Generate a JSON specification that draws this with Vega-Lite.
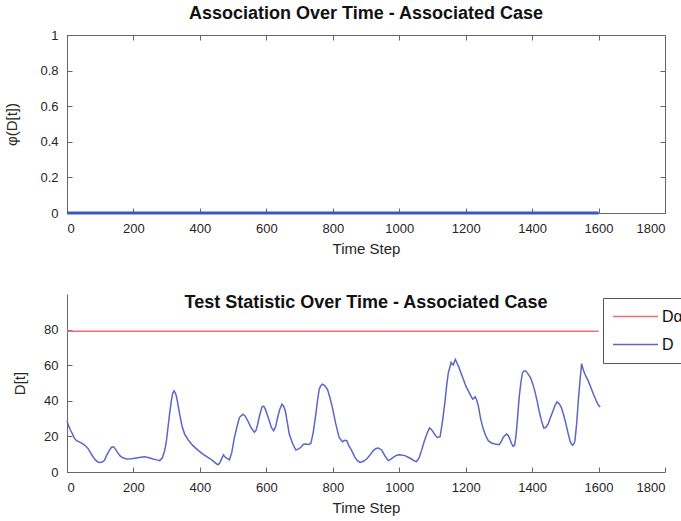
{
  "$schema": "https://vega.github.io/schema/vega-lite/v6.json",
  "padding": {"left": 4, "top": 4, "right": 0, "bottom": 4},
  "background": "white",
  "spacing": 37,
  "config": {
    "font": "Liberation Sans",
    "view": {"stroke": null},
    "axis": {
      "grid": false,
      "labelFont": "Liberation Sans",
      "labelFontSize": 13,
      "labelColor": "#262626",
      "titleFont": "Liberation Sans",
      "titleFontSize": 15,
      "titleFontWeight": "normal",
      "titleColor": "#262626",
      "domainColor": "#666666",
      "tickColor": "#666666",
      "tickSize": -5,
      "labelPadding": 14
    },
    "title": {
      "font": "Liberation Sans",
      "fontSize": 18,
      "fontWeight": "bold",
      "color": "#111111",
      "frame": "group",
      "anchor": "middle"
    }
  },
  "vconcat": [
    {
      "width": 598,
      "height": 178,
      "title": {"text": "Association Over Time - Associated Case", "offset": 6},
      "view": {"stroke": "#666666"},
      "data": {"values": [{"t": 0, "phi": 0}, {"t": 1600, "phi": 0}]},
      "layer": [
        {
          "mark": {"type": "line", "color": "#3b56c4", "strokeWidth": 3},
          "encoding": {
            "x": {
              "field": "t", "type": "quantitative",
              "scale": {"domain": [0, 1800]},
              "axis": {"orient": "bottom", "title": "Time Step", "format": "d", "titlePadding": 6,
                       "values": [0, 200, 400, 600, 800, 1000, 1200, 1400, 1600, 1800]}
            },
            "y": {
              "field": "phi", "type": "quantitative",
              "scale": {"domain": [0, 1]},
              "axis": {"orient": "left", "title": "φ(D[t])", "labelExpr": "'' + datum.value", "titlePadding": 20,
                       "values": [0, 0.2, 0.4, 0.6, 0.8, 1]}
            }
          }
        },
        {
          "mark": {"type": "line", "opacity": 0},
          "encoding": {
            "x": {
              "field": "t", "type": "quantitative",
              "scale": {"domain": [0, 1800]},
              "axis": {"orient": "top", "title": null, "labels": false, "domain": false,
                       "values": [0, 200, 400, 600, 800, 1000, 1200, 1400, 1600, 1800]}
            },
            "y": {
              "field": "phi", "type": "quantitative",
              "scale": {"domain": [0, 1]},
              "axis": {"orient": "right", "title": null, "labels": false, "domain": false,
                       "values": [0, 0.2, 0.4, 0.6, 0.8, 1]}
            }
          }
        }
      ]
    },
    {
      "width": 598,
      "height": 178,
      "title": {"text": "Test Statistic Over Time - Associated Case", "offset": -18},
      "data": {
        "values": [
          {"t": 0, "D": 79.08, "series": "Dα"}, {"t": 1600, "D": 79.08, "series": "Dα"},
          {"t": 0, "D": 28.5, "series": "D"}, {"t": 5, "D": 26, "series": "D"}, {"t": 9, "D": 24, "series": "D"},
          {"t": 13, "D": 22.5, "series": "D"}, {"t": 17, "D": 21.3, "series": "D"}, {"t": 22, "D": 19, "series": "D"},
          {"t": 29, "D": 17.6, "series": "D"}, {"t": 38, "D": 16.8, "series": "D"}, {"t": 49, "D": 15.7, "series": "D"},
          {"t": 57, "D": 14.5, "series": "D"}, {"t": 64, "D": 13, "series": "D"}, {"t": 72, "D": 10.5, "series": "D"},
          {"t": 79, "D": 8.3, "series": "D"}, {"t": 87, "D": 6.5, "series": "D"}, {"t": 94, "D": 5.5, "series": "D"},
          {"t": 101, "D": 5.4, "series": "D"}, {"t": 109, "D": 5.8, "series": "D"}, {"t": 114, "D": 7, "series": "D"},
          {"t": 119, "D": 9.2, "series": "D"}, {"t": 127, "D": 12, "series": "D"}, {"t": 134, "D": 13.9, "series": "D"},
          {"t": 140, "D": 14.2, "series": "D"}, {"t": 144, "D": 13.3, "series": "D"}, {"t": 152, "D": 11, "series": "D"},
          {"t": 159, "D": 9.2, "series": "D"}, {"t": 168, "D": 8, "series": "D"}, {"t": 179, "D": 7.3, "series": "D"},
          {"t": 195, "D": 7.5, "series": "D"}, {"t": 209, "D": 7.9, "series": "D"}, {"t": 222, "D": 8.3, "series": "D"},
          {"t": 234, "D": 8.6, "series": "D"}, {"t": 247, "D": 8, "series": "D"}, {"t": 259, "D": 7.3, "series": "D"},
          {"t": 270, "D": 6.8, "series": "D"}, {"t": 279, "D": 6.4, "series": "D"}, {"t": 287, "D": 8, "series": "D"},
          {"t": 294, "D": 12, "series": "D"}, {"t": 299, "D": 17, "series": "D"}, {"t": 304, "D": 25, "series": "D"},
          {"t": 309, "D": 33, "series": "D"}, {"t": 314, "D": 40, "series": "D"}, {"t": 318, "D": 44, "series": "D"},
          {"t": 322, "D": 45.6, "series": "D"}, {"t": 326, "D": 44.5, "series": "D"}, {"t": 329, "D": 42.8, "series": "D"},
          {"t": 334, "D": 38, "series": "D"}, {"t": 339, "D": 32.5, "series": "D"}, {"t": 346, "D": 26, "series": "D"},
          {"t": 354, "D": 21.3, "series": "D"}, {"t": 365, "D": 18, "series": "D"}, {"t": 379, "D": 14.8, "series": "D"},
          {"t": 394, "D": 12.3, "series": "D"}, {"t": 409, "D": 10.1, "series": "D"}, {"t": 424, "D": 8.2, "series": "D"},
          {"t": 439, "D": 6.4, "series": "D"}, {"t": 447, "D": 5, "series": "D"}, {"t": 454, "D": 4.1, "series": "D"},
          {"t": 459, "D": 4.8, "series": "D"}, {"t": 464, "D": 6.8, "series": "D"}, {"t": 471, "D": 9.7, "series": "D"},
          {"t": 475, "D": 8.5, "series": "D"}, {"t": 479, "D": 7.9, "series": "D"}, {"t": 489, "D": 6.8, "series": "D"},
          {"t": 496, "D": 11, "series": "D"}, {"t": 504, "D": 19.4, "series": "D"}, {"t": 511, "D": 25, "series": "D"},
          {"t": 519, "D": 30.6, "series": "D"}, {"t": 529, "D": 32.5, "series": "D"}, {"t": 536, "D": 31.5, "series": "D"},
          {"t": 544, "D": 28.8, "series": "D"}, {"t": 554, "D": 25, "series": "D"}, {"t": 564, "D": 22.3, "series": "D"},
          {"t": 569, "D": 23.5, "series": "D"}, {"t": 574, "D": 26.9, "series": "D"}, {"t": 580, "D": 32, "series": "D"},
          {"t": 587, "D": 36.6, "series": "D"}, {"t": 592, "D": 37, "series": "D"}, {"t": 597, "D": 35.3, "series": "D"},
          {"t": 603, "D": 32, "series": "D"}, {"t": 609, "D": 28.8, "series": "D"}, {"t": 615, "D": 25, "series": "D"},
          {"t": 622, "D": 23.2, "series": "D"}, {"t": 628, "D": 25.5, "series": "D"}, {"t": 634, "D": 30.6, "series": "D"},
          {"t": 640, "D": 35, "series": "D"}, {"t": 647, "D": 38.1, "series": "D"}, {"t": 652, "D": 37, "series": "D"},
          {"t": 657, "D": 34.4, "series": "D"}, {"t": 663, "D": 28, "series": "D"}, {"t": 669, "D": 21.3, "series": "D"},
          {"t": 679, "D": 16, "series": "D"}, {"t": 689, "D": 12.3, "series": "D"}, {"t": 697, "D": 13, "series": "D"},
          {"t": 704, "D": 13.9, "series": "D"}, {"t": 711, "D": 15.5, "series": "D"}, {"t": 719, "D": 15.7, "series": "D"},
          {"t": 727, "D": 15.5, "series": "D"}, {"t": 734, "D": 16, "series": "D"}, {"t": 741, "D": 22, "series": "D"},
          {"t": 749, "D": 32.5, "series": "D"}, {"t": 754, "D": 40, "series": "D"}, {"t": 759, "D": 46.5, "series": "D"},
          {"t": 764, "D": 48.5, "series": "D"}, {"t": 769, "D": 49.3, "series": "D"}, {"t": 776, "D": 48.5, "series": "D"},
          {"t": 784, "D": 46.5, "series": "D"}, {"t": 791, "D": 42, "series": "D"}, {"t": 799, "D": 36.2, "series": "D"},
          {"t": 809, "D": 27, "series": "D"}, {"t": 819, "D": 19.4, "series": "D"}, {"t": 829, "D": 17, "series": "D"},
          {"t": 836, "D": 17.8, "series": "D"}, {"t": 842, "D": 17.6, "series": "D"}, {"t": 849, "D": 14.5, "series": "D"},
          {"t": 857, "D": 12, "series": "D"}, {"t": 866, "D": 8.5, "series": "D"}, {"t": 874, "D": 6.4, "series": "D"},
          {"t": 882, "D": 5.4, "series": "D"}, {"t": 892, "D": 6, "series": "D"}, {"t": 902, "D": 7.3, "series": "D"},
          {"t": 912, "D": 9.5, "series": "D"}, {"t": 922, "D": 12, "series": "D"}, {"t": 930, "D": 13.2, "series": "D"},
          {"t": 937, "D": 13.5, "series": "D"}, {"t": 947, "D": 12.4, "series": "D"}, {"t": 957, "D": 9, "series": "D"},
          {"t": 967, "D": 6.4, "series": "D"}, {"t": 975, "D": 7.2, "series": "D"}, {"t": 982, "D": 8.2, "series": "D"},
          {"t": 990, "D": 9.2, "series": "D"}, {"t": 997, "D": 9.7, "series": "D"}, {"t": 1007, "D": 9.5, "series": "D"},
          {"t": 1017, "D": 9.2, "series": "D"}, {"t": 1027, "D": 8.3, "series": "D"}, {"t": 1037, "D": 7.3, "series": "D"},
          {"t": 1045, "D": 6.3, "series": "D"}, {"t": 1052, "D": 5.8, "series": "D"}, {"t": 1060, "D": 8, "series": "D"},
          {"t": 1067, "D": 12, "series": "D"}, {"t": 1075, "D": 17, "series": "D"}, {"t": 1083, "D": 21.3, "series": "D"},
          {"t": 1091, "D": 24.7, "series": "D"}, {"t": 1097, "D": 23.8, "series": "D"}, {"t": 1103, "D": 22.3, "series": "D"},
          {"t": 1109, "D": 20.5, "series": "D"}, {"t": 1115, "D": 19.4, "series": "D"}, {"t": 1123, "D": 19.8, "series": "D"},
          {"t": 1130, "D": 28, "series": "D"}, {"t": 1138, "D": 40, "series": "D"}, {"t": 1143, "D": 49, "series": "D"},
          {"t": 1148, "D": 55.9, "series": "D"}, {"t": 1152, "D": 58.5, "series": "D"}, {"t": 1156, "D": 61.5, "series": "D"},
          {"t": 1160, "D": 60.5, "series": "D"}, {"t": 1163, "D": 60.2, "series": "D"}, {"t": 1166, "D": 62, "series": "D"},
          {"t": 1169, "D": 63.3, "series": "D"}, {"t": 1173, "D": 61.5, "series": "D"}, {"t": 1178, "D": 59.6, "series": "D"},
          {"t": 1185, "D": 56, "series": "D"}, {"t": 1193, "D": 52.1, "series": "D"}, {"t": 1200, "D": 48.5, "series": "D"},
          {"t": 1208, "D": 45.6, "series": "D"}, {"t": 1215, "D": 43, "series": "D"}, {"t": 1221, "D": 40.9, "series": "D"},
          {"t": 1225, "D": 41.5, "series": "D"}, {"t": 1229, "D": 42.2, "series": "D"}, {"t": 1233, "D": 40.5, "series": "D"},
          {"t": 1238, "D": 37.2, "series": "D"}, {"t": 1245, "D": 30, "series": "D"}, {"t": 1253, "D": 24.1, "series": "D"},
          {"t": 1260, "D": 20.5, "series": "D"}, {"t": 1268, "D": 17.6, "series": "D"}, {"t": 1278, "D": 16.3, "series": "D"},
          {"t": 1288, "D": 15.7, "series": "D"}, {"t": 1301, "D": 15.3, "series": "D"}, {"t": 1307, "D": 17, "series": "D"},
          {"t": 1313, "D": 19.4, "series": "D"}, {"t": 1318, "D": 20.5, "series": "D"}, {"t": 1323, "D": 21.3, "series": "D"},
          {"t": 1328, "D": 20.5, "series": "D"}, {"t": 1333, "D": 18.5, "series": "D"}, {"t": 1338, "D": 16, "series": "D"},
          {"t": 1343, "D": 14.4, "series": "D"}, {"t": 1347, "D": 15, "series": "D"}, {"t": 1351, "D": 19.4, "series": "D"},
          {"t": 1356, "D": 30, "series": "D"}, {"t": 1361, "D": 41.9, "series": "D"}, {"t": 1366, "D": 50, "series": "D"},
          {"t": 1371, "D": 55.9, "series": "D"}, {"t": 1376, "D": 56.8, "series": "D"}, {"t": 1381, "D": 56.8, "series": "D"},
          {"t": 1388, "D": 55, "series": "D"}, {"t": 1395, "D": 53.1, "series": "D"}, {"t": 1402, "D": 49.5, "series": "D"},
          {"t": 1408, "D": 45.6, "series": "D"}, {"t": 1415, "D": 40, "series": "D"}, {"t": 1421, "D": 34.4, "series": "D"},
          {"t": 1428, "D": 29, "series": "D"}, {"t": 1435, "D": 24.7, "series": "D"}, {"t": 1441, "D": 25, "series": "D"},
          {"t": 1448, "D": 26.9, "series": "D"}, {"t": 1455, "D": 30.5, "series": "D"}, {"t": 1463, "D": 34.4, "series": "D"},
          {"t": 1469, "D": 37.5, "series": "D"}, {"t": 1475, "D": 39.4, "series": "D"}, {"t": 1481, "D": 38.5, "series": "D"},
          {"t": 1488, "D": 36.2, "series": "D"}, {"t": 1495, "D": 32, "series": "D"}, {"t": 1502, "D": 26.9, "series": "D"},
          {"t": 1508, "D": 22, "series": "D"}, {"t": 1514, "D": 17.6, "series": "D"}, {"t": 1518, "D": 15.8, "series": "D"},
          {"t": 1522, "D": 15.1, "series": "D"}, {"t": 1526, "D": 16, "series": "D"}, {"t": 1529, "D": 17.6, "series": "D"},
          {"t": 1534, "D": 27, "series": "D"}, {"t": 1539, "D": 39.9, "series": "D"}, {"t": 1544, "D": 51, "series": "D"},
          {"t": 1549, "D": 60.9, "series": "D"}, {"t": 1554, "D": 57.5, "series": "D"}, {"t": 1559, "D": 54.9, "series": "D"},
          {"t": 1564, "D": 53, "series": "D"}, {"t": 1569, "D": 51.2, "series": "D"}, {"t": 1574, "D": 48.8, "series": "D"},
          {"t": 1579, "D": 46.5, "series": "D"}, {"t": 1584, "D": 44, "series": "D"}, {"t": 1589, "D": 41.9, "series": "D"},
          {"t": 1594, "D": 39.5, "series": "D"}, {"t": 1600, "D": 37.5, "series": "D"}, {"t": 1605, "D": 36.5, "series": "D"}
        ]
      },
      "mark": {"type": "line", "strokeWidth": 1.5},
      "encoding": {
        "x": {
          "field": "t", "type": "quantitative",
          "scale": {"domain": [0, 1800]},
          "axis": {"title": "Time Step", "format": "d", "titlePadding": 6,
                   "values": [0, 200, 400, 600, 800, 1000, 1200, 1400, 1600, 1800]}
        },
        "y": {
          "field": "D", "type": "quantitative",
          "scale": {"domain": [0, 100]},
          "axis": {"title": "D[t]", "titlePadding": 16, "values": [0, 20, 40, 60, 80]}
        },
        "color": {
          "field": "series", "type": "nominal",
          "scale": {"domain": ["Dα", "D"], "range": ["#f26b7a", "#5d66c6"]},
          "legend": {
            "title": null, "orient": "none", "legendX": 536, "legendY": 263,
            "symbolType": "M-3,0H3", "symbolSize": 225, "symbolStrokeWidth": 1.5,
            "symbolOffset": 14, "symbolFillColor": "transparent",
            "labelFont": "Liberation Sans", "labelFontSize": 16, "labelColor": "#111111",
            "labelOffset": 18, "strokeColor": "#555555", "fillColor": "white",
            "padding": 10, "rowPadding": 11
          }
        }
      }
    }
  ]
}
